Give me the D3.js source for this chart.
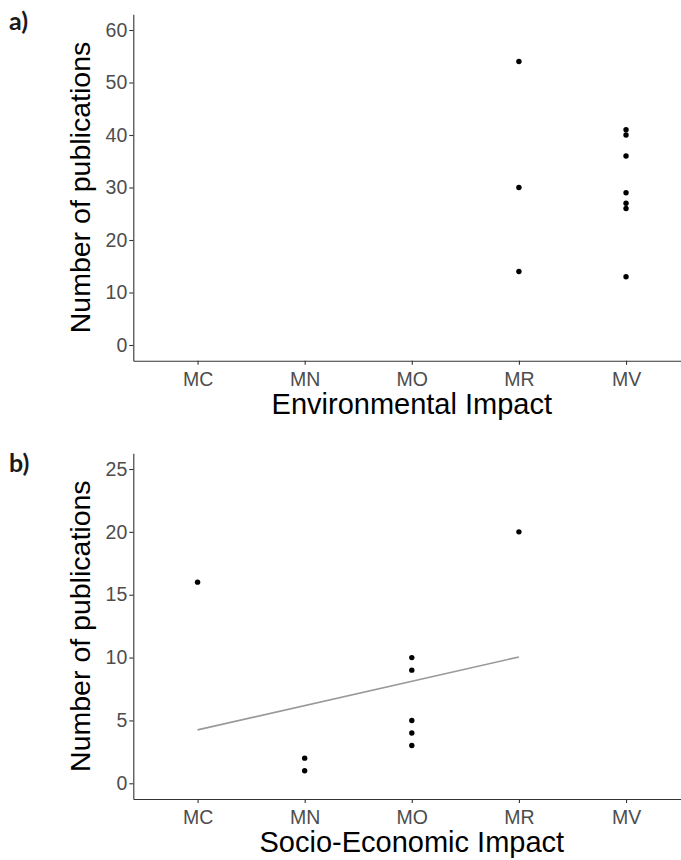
<!DOCTYPE html>
<html>
<head>
<meta charset="utf-8">
<script src="https://cdn.jsdelivr.net/npm/d3@7"></script>
<style>
  body { margin: 0; background: #fff; }
  svg { display: block; }
</style>
</head>
<body>
<svg id="chart" width="681" height="860"></svg>
<script>
(function () {
  const categories = ["MC", "MN", "MO", "MR", "MV"];

  // panel a) Environmental Impact
  const envCats = ["MR", "MR", "MR", "MV", "MV", "MV", "MV", "MV", "MV", "MV"];
  const envCounts = [54, 30, 14, 41, 40, 36, 29, 27, 26, 13];
  const envTicks = [0, 10, 20, 30, 40, 50, 60];

  // panel b) Socio-Economic Impact
  const socCats = ["MC", "MN", "MN", "MO", "MO", "MO", "MO", "MO", "MR"];
  const socCounts = [16, 2, 1, 10, 9, 5, 4, 3, 20];
  const socTicks = [0, 5, 10, 15, 20, 25];

  // fitted trend line in panel b
  const trendCats = ["MC", "MR"];
  const trendValues = [4.25, 10.05];

  const svg = d3.select("#chart");
  const font = "'Liberation Sans', Arial, Helvetica, sans-serif";

  function drawPanel(opts) {
    const g = svg.append("g");
    const left = 133.3, right = 690.3;

    const x = d3.scalePoint()
      .domain(categories)
      .range([left, right])
      .padding(0.6);

    const y = d3.scaleLinear()
      .domain(opts.domain)
      .range([opts.bottom, opts.top]);

    const yAxis = d3.axisLeft(y).tickValues(opts.ticks).tickSize(4).tickPadding(2).tickSizeOuter(0);
    const xAxis = d3.axisBottom(x).tickSize(4).tickPadding(7).tickSizeOuter(0);

    const ya = g.append("g")
      .attr("transform", `translate(${left},0)`)
      .call(yAxis);
    const xa = g.append("g")
      .attr("transform", `translate(0,${opts.bottom})`)
      .call(xAxis);

    [ya, xa].forEach(a => {
      a.attr("font-family", null).attr("font-size", null);
      a.select("path.domain").attr("stroke", "#333").attr("stroke-width", 1.1);
      a.selectAll(".tick line").attr("stroke", "#333").attr("stroke-width", 1.1);
      a.selectAll(".tick text")
        .attr("fill", "#4d4d4d")
        .style("font-family", font)
        .style("font-size", "19.5px");
    });
    xa.selectAll(".tick text").attr("dy", "0.71em");

    if (opts.trend) {
      g.append("line")
        .attr("x1", x(opts.trend.cats[0]))
        .attr("y1", y(opts.trend.values[0]))
        .attr("x2", x(opts.trend.cats[1]))
        .attr("y2", y(opts.trend.values[1]))
        .attr("stroke", "#999")
        .attr("stroke-width", 1.6);
    }

    g.selectAll("circle.pt")
      .data(opts.counts)
      .enter()
      .append("circle")
      .attr("class", "pt")
      .attr("cx", (d, i) => x(opts.cats[i]))
      .attr("cy", d => y(d))
      .attr("r", 2.7)
      .attr("fill", "#000");

    // axis titles
    g.append("text")
      .attr("x", (left + right) / 2)
      .attr("y", opts.bottom + 53)
      .attr("text-anchor", "middle")
      .style("font-family", font)
      .style("font-size", "29px")
      .attr("fill", "#000")
      .text(opts.xTitle);

    g.append("text")
      .attr("transform", `translate(90,${(opts.top + opts.bottom) / 2}) rotate(-90)`)
      .attr("text-anchor", "middle")
      .style("font-family", font)
      .style("font-size", "28.5px")
      .attr("fill", "#000")
      .text("Number of publications");

    // panel tag
    g.append("text")
      .attr("x", 9)
      .attr("y", opts.tagY)
      .style("font-family", "Lato, 'DejaVu Sans', sans-serif")
      .style("font-weight", "bold")
      .style("font-size", "25px")
      .attr("fill", "#1a1a1a")
      .text(opts.tag);
  }

  drawPanel({
    cats: envCats, counts: envCounts, ticks: envTicks,
    domain: [-3, 63], top: 14.25, bottom: 360.75,
    xTitle: "Environmental Impact", tag: "a)", tagY: 30
  });

  drawPanel({
    cats: socCats, counts: socCounts, ticks: socTicks,
    domain: [-1.25, 26.25], top: 453.3, bottom: 799,
    xTitle: "Socio-Economic Impact", tag: "b)", tagY: 472,
    trend: { cats: trendCats, values: trendValues }
  });
})();
</script>
</body>
</html>
